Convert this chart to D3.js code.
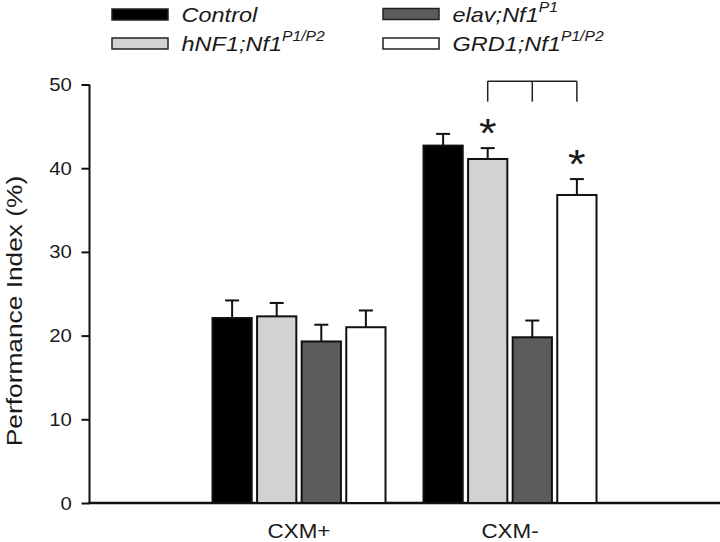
<!DOCTYPE html>
<html>
<head>
<meta charset="utf-8">
<script src="https://cdn.jsdelivr.net/npm/d3@7"></script>
<style>
  html, body { margin: 0; padding: 0; background: #fff; }
  svg { display: block; font-family: "Liberation Sans", Arial, sans-serif; }
</style>
</head>
<body>
<svg id="chart" width="720" height="542"></svg>
<script>
// ---- data ----
const categories = ["CXM+", "CXM-"];
const seriesNames = ["Control", "hNF1;Nf1", "elav;Nf1", "GRD1;Nf1"];
const seriesSup = ["", "P1/P2", "P1", "P1/P2"];
const meanCXMplus = [22.1, 22.3, 19.3, 21.0];
const meanCXMminus = [42.7, 41.1, 19.8, 36.8];
const semCXMplus = [2.1, 1.6, 2.0, 2.0];
const semCXMminus = [1.4, 1.3, 2.0, 1.9];
const yTicks = [0, 10, 20, 30, 40, 50];
const significant = [["CXM-", "hNF1;Nf1"], ["CXM-", "GRD1;Nf1"]];
const bracketSeries = ["hNF1;Nf1", "elav;Nf1", "GRD1;Nf1"];
const colors = ["#000000", "#d2d2d2", "#5c5c5c", "#ffffff"];

const means = { "CXM+": meanCXMplus, "CXM-": meanCXMminus };
const sems = { "CXM+": semCXMplus, "CXM-": semCXMminus };

const svg = d3.select("#chart");
const textColor = "#1a1a1a";

// ---- scales ----
const y = d3.scaleLinear().domain([0, 50]).range([503, 84.5]);
const x0 = d3.scaleBand().domain(categories).range([193.5, 615.5]).padding(0);
const x1 = d3.scaleBand().domain(seriesNames).range([-86.5, 86.5]).paddingInner(0.12).paddingOuter(0);
const color = d3.scaleOrdinal().domain(seriesNames).range(colors);
const center = c => x0(c) + x0.bandwidth() / 2;

// ---- y axis ----
const yAxis = d3.axisLeft(y).tickValues(yTicks).tickSize(8).tickPadding(8.5).tickFormat(d3.format("d"));
const gy = svg.append("g").attr("transform", "translate(89.5,0)").call(yAxis);
gy.select(".domain").attr("stroke", "#111").attr("stroke-width", 2).attr("d", `M0,${y(50)}V${y(0)}`);
gy.selectAll(".tick line").attr("stroke", "#111").attr("stroke-width", 2);
gy.selectAll(".tick text").attr("fill", textColor).attr("font-size", 19)
  .attr("font-family", "Liberation Sans, Arial, sans-serif")
  .attr("transform", "scale(1.07,1)");

// ---- x axis line ----
svg.append("line").attr("x1", 88.5).attr("x2", 720).attr("y1", y(0)).attr("y2", y(0))
  .attr("stroke", "#111").attr("stroke-width", 2.5);
svg.append("g").selectAll("g").data(categories).join("g")
  .attr("transform", d => `translate(${center(d)},537.5) scale(1.12,1)`)
  .append("text").attr("text-anchor", "middle")
  .attr("font-size", 20).attr("fill", textColor).text(d => d);

// ---- y label ----
svg.append("text").attr("transform", `translate(21.5,311) rotate(-90) scale(1.17,1)`)
  .attr("text-anchor", "middle").attr("font-size", 22.5).attr("fill", textColor)
  .text("Performance Index (%)");

// ---- bars ----
const barData = [];
categories.forEach(c => seriesNames.forEach((s, i) => barData.push({ c, s, i, v: means[c][i], e: sems[c][i] })));
const bx = d => center(d.c) + x1(d.s) + x1.bandwidth() / 2;
const gBars = svg.append("g");
gBars.selectAll("line.err").data(barData).join("line").attr("class", "err")
  .attr("x1", bx).attr("x2", bx)
  .attr("y1", d => y(d.v)).attr("y2", d => y(d.v + d.e))
  .attr("stroke", "#111").attr("stroke-width", 2);
gBars.selectAll("line.cap").data(barData).join("line").attr("class", "cap")
  .attr("x1", d => bx(d) - 7).attr("x2", d => bx(d) + 7)
  .attr("y1", d => y(d.v + d.e)).attr("y2", d => y(d.v + d.e))
  .attr("stroke", "#111").attr("stroke-width", 2);
gBars.selectAll("rect").data(barData).join("rect")
  .attr("x", d => center(d.c) + x1(d.s))
  .attr("width", x1.bandwidth())
  .attr("y", d => y(d.v)).attr("height", d => y(0) - y(d.v))
  .attr("fill", d => color(d.s)).attr("stroke", "#111").attr("stroke-width", 2);

// ---- significance stars ----
svg.append("g").selectAll("g").data(significant).join("g")
  .attr("transform", d => {
    const i = seriesNames.indexOf(d[1]);
    const cx = center(d[0]) + x1(d[1]) + x1.bandwidth() / 2;
    const cy = y(means[d[0]][i] + sems[d[0]][i]) - 25 + 24;
    return `translate(${cx},${cy}) scale(1.1,1)`;
  })
  .append("text").attr("text-anchor", "middle").attr("font-size", 41).attr("fill", textColor).text("*");

// ---- bracket ----
const bTop = 50.4, bBottom = 47.95;
const bxs = bracketSeries.map(s => center("CXM-") + x1(s) + x1.bandwidth() / 2);
const gB = svg.append("g").attr("stroke", "#222").attr("stroke-width", 1.5).attr("fill", "none");
gB.append("line").attr("x1", bxs[0]).attr("x2", bxs[bxs.length - 1]).attr("y1", y(bTop)).attr("y2", y(bTop));
gB.selectAll("line.v").data(bxs).join("line").attr("class", "v")
  .attr("x1", d => d).attr("x2", d => d).attr("y1", y(bTop)).attr("y2", y(bBottom));

// ---- legend ----
const legendPos = [[112, 9], [112, 38], [383, 8.5], [383, 38]];
const gL = svg.append("g");
seriesNames.forEach((s, i) => {
  const [lx, ly] = legendPos[i];
  gL.append("rect").attr("x", lx).attr("y", ly).attr("width", 56).attr("height", 11)
    .attr("fill", colors[i]).attr("stroke", "#222").attr("stroke-width", 1.5);
  const t = gL.append("g").attr("transform", `translate(${lx + 69.5},${ly + 13}) scale(1.12,1)`)
    .append("text").attr("font-size", 21).attr("font-style", "italic").attr("fill", textColor);
  t.append("tspan").text(s);
  if (seriesSup[i]) {
    t.append("tspan").attr("dy", -10).attr("font-size", 14).text(seriesSup[i]);
  }
});
</script>
</body>
</html>
